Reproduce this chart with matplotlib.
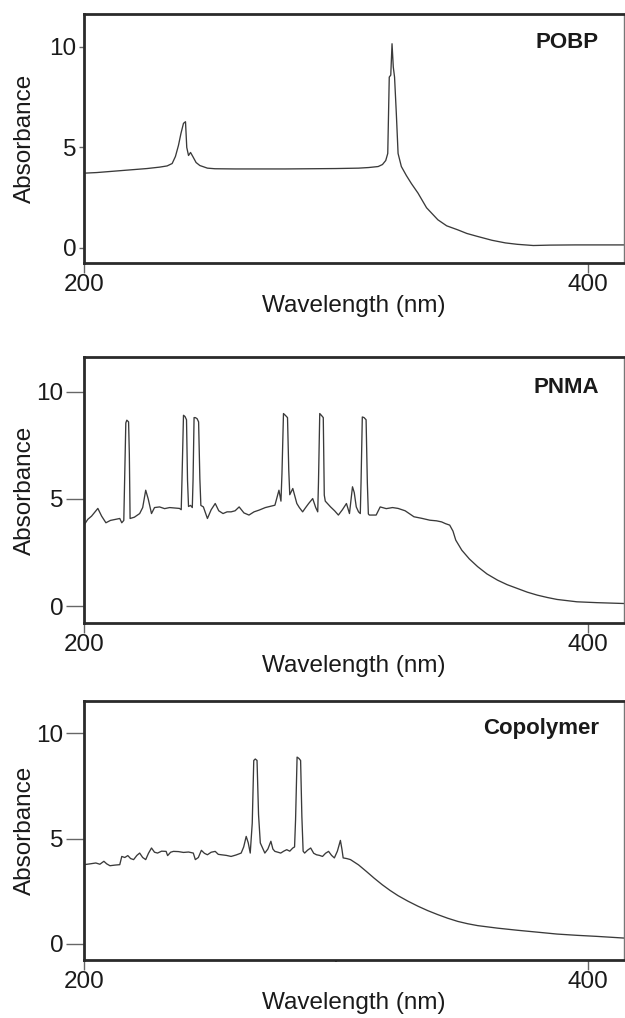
import matplotlib
matplotlib.use("Agg")
import matplotlib.pyplot as plt

plt.rcParams['font.family'] = ['Liberation Sans', 'DejaVu Sans']

# ---------------- data ----------------
pobp_wl = [200.0, 205, 210, 215, 220, 225, 230, 233, 235, 236.3, 237.5, 238.5, 239.5, 240.3, 240.8,
           241.5, 242.3, 243.2, 244.5, 246, 249, 252, 260, 270, 280, 290, 300, 309, 313, 316.8, 318.5,
           319.8, 320.6, 321.2, 321.8, 322.3, 322.8, 323.3, 324.0, 324.7, 326.0, 328, 330, 332.6, 336,
           340.5, 344, 348.4, 352, 356, 362, 367.3, 372, 378.4, 385, 395, 405, 414.4]
pobp_abs = [3.72, 3.75, 3.8, 3.85, 3.9, 3.95, 4.02, 4.08, 4.2, 4.55, 5.1, 5.7, 6.2, 6.28, 5.0,
            4.6, 4.75, 4.55, 4.25, 4.1, 3.97, 3.94, 3.93, 3.93, 3.93, 3.94, 3.95, 3.97, 4.0, 4.05, 4.15,
            4.35, 4.7, 8.5, 8.6, 10.16, 9.0, 8.5, 6.7, 4.7, 4.05, 3.6, 3.2, 2.73, 2.0,
            1.4, 1.1, 0.9, 0.72, 0.58, 0.38, 0.25, 0.18, 0.12, 0.14, 0.15, 0.15, 0.15]

pnma_wl = [200.0, 201.5, 203, 205.5, 207, 208.7, 210.5, 212.5, 214.2, 215.0, 215.8, 216.1, 216.6, 217.0,
           217.7, 218.0, 218.3, 220, 222.1, 223.3, 224.5, 225.5, 226.8, 228, 230, 232, 234, 236, 237.9,
           238.6, 238.9, 239.5, 240.1, 240.7, 241.1, 241.5, 242.3, 243.0, 243.3, 243.7, 244.2, 244.9,
           245.5, 246.0, 246.4, 247.4, 249, 250.5, 252.1, 253.5, 255.2, 256.8, 258.4, 260, 261.6,
           263.5, 265.5, 267.5, 269.5, 272, 275.8, 277.4, 278.2, 278.6, 279.2, 280.0, 280.8, 281.3,
           281.7, 282.9, 284.5, 285.5, 286.8, 288, 289.2, 290.8, 292.0, 292.8, 293.1, 293.6, 294.3,
           295.0, 295.4, 295.8, 297.9, 299.5, 301, 302.6, 304.2, 305.4, 306.6, 307.3, 308.1, 309.0,
           309.7, 310.0, 310.5, 311.2, 312.0, 312.5, 312.9, 313.3, 314.5, 316, 317.6, 320, 322.5,
           324.7, 327.5, 331, 334, 337.3, 340, 342, 343.5, 345.2, 346.5, 347.6, 350, 353, 356.3,
           360, 364.2, 368, 372.1, 376, 380, 384, 387.8, 395.7, 403.6, 414.4]
pnma_abs = [3.78, 4.05, 4.2, 4.56, 4.2, 3.89, 4.0, 4.05, 4.09, 3.89, 4.0, 5.7, 8.55, 8.68,
            8.6, 7.1, 4.09, 4.15, 4.32, 4.6, 5.41, 5.0, 4.32, 4.6, 4.63, 4.55, 4.6, 4.58, 4.56,
            4.5, 5.88, 8.91, 8.85, 8.7, 5.88, 4.65, 4.7, 4.6, 5.9, 8.8, 8.8, 8.75,
            8.6, 5.95, 4.7, 4.63, 4.09, 4.5, 4.79, 4.45, 4.32, 4.4, 4.4, 4.45, 4.63,
            4.35, 4.25, 4.4, 4.48, 4.6, 4.71, 5.41, 4.9, 6.19, 8.99, 8.9, 8.8, 6.34,
            5.2, 5.49, 4.79, 4.6, 4.4, 4.6, 4.79, 5.02, 4.6, 4.4, 5.8, 8.99, 8.9,
            8.8, 5.18, 4.9, 4.63, 4.45, 4.25, 4.5, 4.79, 4.32, 5.57, 5.3, 4.63, 4.4,
            4.32, 5.8, 8.83, 8.8, 8.7, 5.75, 4.3, 4.25, 4.25, 4.25, 4.63, 4.55, 4.6,
            4.56, 4.45, 4.17, 4.1, 4.01, 3.98, 3.93, 3.85, 3.78, 3.5, 3.08, 2.61, 2.2, 1.84,
            1.5, 1.21, 1.0, 0.82, 0.65, 0.51, 0.4, 0.31, 0.2, 0.16, 0.12]

copo_wl = [200.0, 202.5, 204.7, 206.3, 207.9, 209.0, 210.3, 212.3, 214.2, 215.0, 216.2, 217.4, 218.5,
           219.7, 221, 222.1, 223.3, 224.5, 225.6, 226.8, 228, 229.2, 230.8, 232.6, 233.2, 234.4,
           235.5, 237.5, 239.5, 241.5, 243.4, 244.2, 245.4, 246.6, 247.8, 249, 250.5, 252.1, 253.3,
           254.5, 256.5, 258.4, 260.4, 262.4, 263.4, 264.4, 265.2, 266.0, 266.8, 267.4, 268.0, 268.7,
           269.3, 270.0, 271.8, 273, 274.2, 275.0, 275.8, 277, 278.1, 279.3, 280.5, 281.7, 282.9,
           283.6, 284.0, 284.6, 285.3, 286.0, 286.5, 287.0, 287.6, 288.8, 290.0, 291.2, 292.3, 293.5,
           294.7, 295.9, 297.1, 298.3, 299.4, 300.6, 301.8, 302.4, 302.9, 304.3, 305.8, 309, 312.1,
           315.2, 318.4, 321.5, 324.7, 328.6, 332.6, 336.5, 340.5, 344.4, 348.4, 352.3, 356.3, 364.2,
           372.1, 380, 387.8, 395.7, 403.6, 414.4]
copo_abs = [3.76, 3.8, 3.84, 3.78, 3.92, 3.8, 3.71, 3.74, 3.76, 4.15, 4.1, 4.19, 4.05,
            4.0, 4.2, 4.31, 4.1, 4.0, 4.3, 4.55, 4.35, 4.31, 4.4, 4.39, 4.19, 4.35,
            4.39, 4.38, 4.34, 4.36, 4.31, 4.0, 4.1, 4.44, 4.3, 4.23, 4.35, 4.39, 4.25,
            4.23, 4.2, 4.15, 4.22, 4.31, 4.6, 5.1, 4.8, 4.31, 5.73, 8.7, 8.77, 8.7,
            6.13, 4.79, 4.31, 4.5, 4.87, 4.5, 4.39, 4.35, 4.31, 4.4, 4.47, 4.4, 4.55,
            4.6, 5.89, 8.86, 8.8, 8.7, 6.05, 4.4, 4.31, 4.45, 4.55, 4.3, 4.23, 4.2,
            4.15, 4.3, 4.39, 4.2, 4.08, 4.4, 4.91, 4.5, 4.08, 4.05, 4.0, 3.75, 3.44,
            3.12, 2.81, 2.54, 2.29, 2.03, 1.79, 1.58, 1.39, 1.22, 1.07, 0.96, 0.87, 0.75,
            0.65, 0.56, 0.47, 0.41, 0.36, 0.28]

titles = ["POBP", "PNMA", "Copolymer"]
series = [(pobp_wl, pobp_abs), (pnma_wl, pnma_abs), (copo_wl, copo_abs)]
yticks = [0, 5, 10]
xticks = [200, 400]
xlabel = "Wavelength (nm)"
ylabel = "Absorbance"

# ---------------- layout ----------------
fig = plt.figure(figsize=(6.25, 10.18), dpi=100)
W, H = 625.0, 1018.0
# (top px, bottom px, ymin, ymax)
panels = [(14, 263, -0.75, 11.64), (357, 623, -0.79, 11.63), (701, 960, -0.76, 11.52)]
ytick_len = [3.5, 13, 13]
for i, ((top, bot, ymin, ymax), (wl, ab), title) in enumerate(zip(panels, series, titles)):
    ax = fig.add_axes([84 / W, 1 - bot / H, (624 - 84) / W, (bot - top) / H])
    ax.plot(wl, ab, color='#3a3a3a', lw=0.95)
    ax.set_xlim(200, 414.4)
    ax.set_ylim(ymin, ymax)
    ax.set_yticks(yticks)
    ax.set_xticks(xticks)
    if i == 2:
        ax.set_xticks([300], minor=True)
        ax.tick_params(axis='x', which='minor', length=1.5, width=1.5, color='#333333')
    for s in ['left', 'bottom', 'top']:
        ax.spines[s].set_linewidth(2.0)
        ax.spines[s].set_color('#2a2a2a')
    ax.spines['right'].set_linewidth(1.0)
    ax.spines['right'].set_color('#777777')
    ax.tick_params(axis='y', direction='out', length=ytick_len[i], width=1.0,
                   color='#666666', labelsize=17.5, pad=2, labelcolor='#1a1a1a')
    ax.tick_params(axis='x', which='major', direction='out', length=7, width=1.0,
                   color='#666666', labelsize=17.5, pad=1, labelcolor='#1a1a1a')
    ax.set_xlabel(xlabel, fontsize=17.5, labelpad=-1, color='#1a1a1a')
    ax.set_ylabel(ylabel, fontsize=17.5, color='#1a1a1a')
    ax.yaxis.set_label_coords((36 - 84) / 540.0, 0.5)
    ax.text(404.5, 10.2, title, ha='right', va='center', fontsize=16,
            fontweight='bold', color='#1a1a1a')

fig.savefig("out.png", dpi=100)
